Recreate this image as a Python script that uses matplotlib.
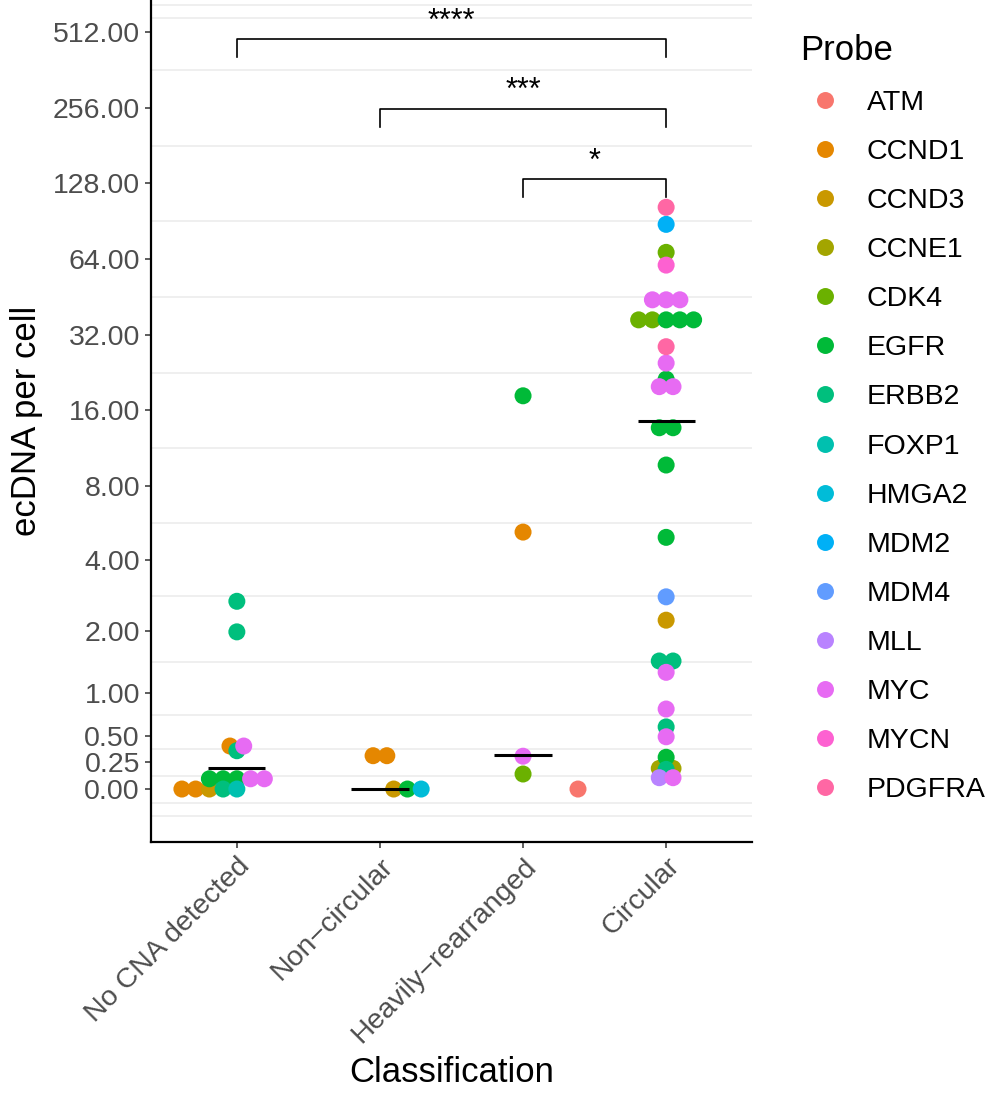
import numpy as np
import matplotlib
matplotlib.use('Agg')
import matplotlib.pyplot as plt
from matplotlib.lines import Line2D

plt.rcParams['font.family'] = ['Liberation Sans', 'DejaVu Sans']

# ---- data -------------------------------------------------------------
classes = ['No CNA detected', 'Non\u2212circular', 'Heavily\u2212rearranged', 'Circular']

probes = ['ATM', 'CCND1', 'CCND3', 'CCNE1', 'CDK4', 'EGFR', 'ERBB2', 'FOXP1',
          'HMGA2', 'MDM2', 'MDM4', 'MLL', 'MYC', 'MYCN', 'PDGFRA']
probe_colors = ['#F8766D', '#E58700', '#C99800', '#A3A500', '#6BB100', '#00BA38',
                '#00BF7D', '#00C0AF', '#00BCD8', '#00B0F6', '#619CFF', '#B983FF',
                '#E76BF3', '#FD61D1', '#FF67A4']

no_cna_probe = ['CCND1', 'CCND1', 'CCND1', 'CCND3', 'EGFR', 'EGFR', 'EGFR',
                'ERBB2', 'ERBB2', 'ERBB2', 'ERBB2', 'FOXP1', 'MYC', 'MYC', 'MYC']
no_cna_value = [0, 0, 0.404, 0, 0.094, 0.094, 0.094,
                0, 0.358, 1.99, 2.7, 0, 0.094, 0.094, 0.404]

noncirc_probe = ['CCND1', 'CCND1', 'CCND3', 'EGFR', 'HMGA2']
noncirc_value = [0.31, 0.31, 0, 0, 0]

heavy_probe = ['ATM', 'CCND1', 'CDK4', 'EGFR', 'MYC']
heavy_value = [0, 5.21, 0.138, 18.3, 0.305]

circ_probe = ['CCND3', 'CCNE1', 'CCNE1', 'CDK4', 'CDK4', 'CDK4',
              'EGFR', 'EGFR', 'EGFR', 'EGFR', 'EGFR', 'EGFR', 'EGFR', 'EGFR', 'EGFR',
              'ERBB2', 'ERBB2', 'ERBB2', 'ERBB2', 'MDM2', 'MDM4', 'MLL',
              'MYC', 'MYC', 'MYC', 'MYC', 'MYC', 'MYC', 'MYC', 'MYC', 'MYC', 'MYC',
              'MYCN', 'PDGFRA', 'PDGFRA']
circ_value = [2.24, 0.19, 0.19, 68.1, 36.7, 36.7,
              36.7, 36.7, 36.7, 21.3, 13.65, 13.65, 9.69, 4.96, 0.295,
              1.46, 1.46, 0.60, 0.181, 88.0, 2.82, 0.104,
              44.1, 44.1, 44.1, 24.7, 19.9, 19.9, 1.284, 0.80, 0.497, 0.104,
              60.6, 102.9, 28.7]

# medians per classification
medians = [0.196, 0.0, 0.316, 14.5]

# pairwise comparisons against "Circular": (group a, group b, bracket height, label)
comparisons = [(0, 3, 479, '****'), (1, 3, 253, '***'), (2, 3, 133, '*')]

y_breaks = [0, 0.25, 0.5, 1, 2, 4, 8, 16, 32, 64, 128, 256, 512]

# ---- assemble --------------------------------------------------------
groups = [(no_cna_probe, no_cna_value), (noncirc_probe, noncirc_value),
          (heavy_probe, heavy_value), (circ_probe, circ_value)]
xs, vals, cols = [], [], []
for i, (pr, va) in enumerate(groups):
    for p, v in zip(pr, va):
        xs.append(i + 1)
        vals.append(v)
        cols.append(probe_colors[probes.index(p)])
xs = np.array(xs, dtype=float)
vals = np.array(vals, dtype=float)

# stack tied values side by side, centred
slot = 0.096
offs = np.zeros(len(vals))
for v in np.unique(vals):
    idx = np.flatnonzero(vals == v)
    offs[idx] = (np.arange(len(idx)) - (len(idx) - 1) / 2) * slot

# ---- plot ------------------------------------------------------------
fig = plt.figure(figsize=(9.88, 10.96), dpi=100)
ax = fig.add_axes([151 / 988, 254 / 1096, 601 / 988, 842 / 1096])
ax.set_yscale('function', functions=(np.arcsinh, np.sinh))
ax.set_ylim(np.sinh(-0.485), np.sinh(7.225))
ax.set_xlim(0.4, 4.6)

# minor grid halfway between breaks (in transformed space)
ub = np.arcsinh(np.array([-0.25] + y_breaks))
grid_u = np.concatenate([[ub[0]], (ub[:-1] + ub[1:]) / 2, [7.06, 7.18]])
for g in np.sinh(grid_u):
    ax.axhline(g, color='#EBEBEB', lw=1.1, zorder=0)

ax.scatter(xs + offs, vals, s=150, c=cols, edgecolors='none', zorder=2)

pos = np.arange(1, 5)
ax.hlines(medians, pos - 0.2, pos + 0.2, color='black', lw=2.2, zorder=3)

tip = 0.163
for a, b, h, lab in comparisons:
    low = np.sinh(np.arcsinh(h) - tip)
    ax.plot([a + 1, a + 1, b + 1, b + 1], [low, h, h, low], color='black',
            lw=1.2, zorder=3, clip_on=False)
    ax.annotate(lab, ((a + b) / 2 + 1, h), xytext=(0, 7), textcoords='offset points',
                ha='center', va='baseline', fontsize=22, annotation_clip=False)

ax.set_yticks(y_breaks)
ax.set_yticklabels([f'{t:.2f}' for t in y_breaks])
ax.yaxis.set_minor_locator(matplotlib.ticker.NullLocator())
ax.set_xticks(pos)
ax.set_xticklabels(classes, rotation=45, ha='right', va='top', rotation_mode='anchor')

for s in ['top', 'right']:
    ax.spines[s].set_visible(False)
for s in ['left', 'bottom']:
    ax.spines[s].set_linewidth(1.6)
ax.tick_params(axis='both', length=4, width=1.1, color='#333333',
               labelcolor='#4D4D4D', labelsize=20.5, pad=4)

ax.set_ylabel('ecDNA per cell', fontsize=25, labelpad=7)
ax.set_xlabel('Classification', fontsize=25, labelpad=6)

handles = [Line2D([], [], ls='none', marker='o', ms=12.2, mec='none', mfc=c)
           for c in probe_colors]
leg = fig.legend(handles, probes, title='Probe', loc='upper left',
                 bbox_to_anchor=(800 / 988, 1 - 34 / 1096), frameon=False,
                 fontsize=20.5, title_fontsize=25, alignment='left',
                 borderpad=0, borderaxespad=0, handlelength=1.75,
                 handletextpad=0.6, labelspacing=0.81)

fig.savefig('out.png', dpi=100)
